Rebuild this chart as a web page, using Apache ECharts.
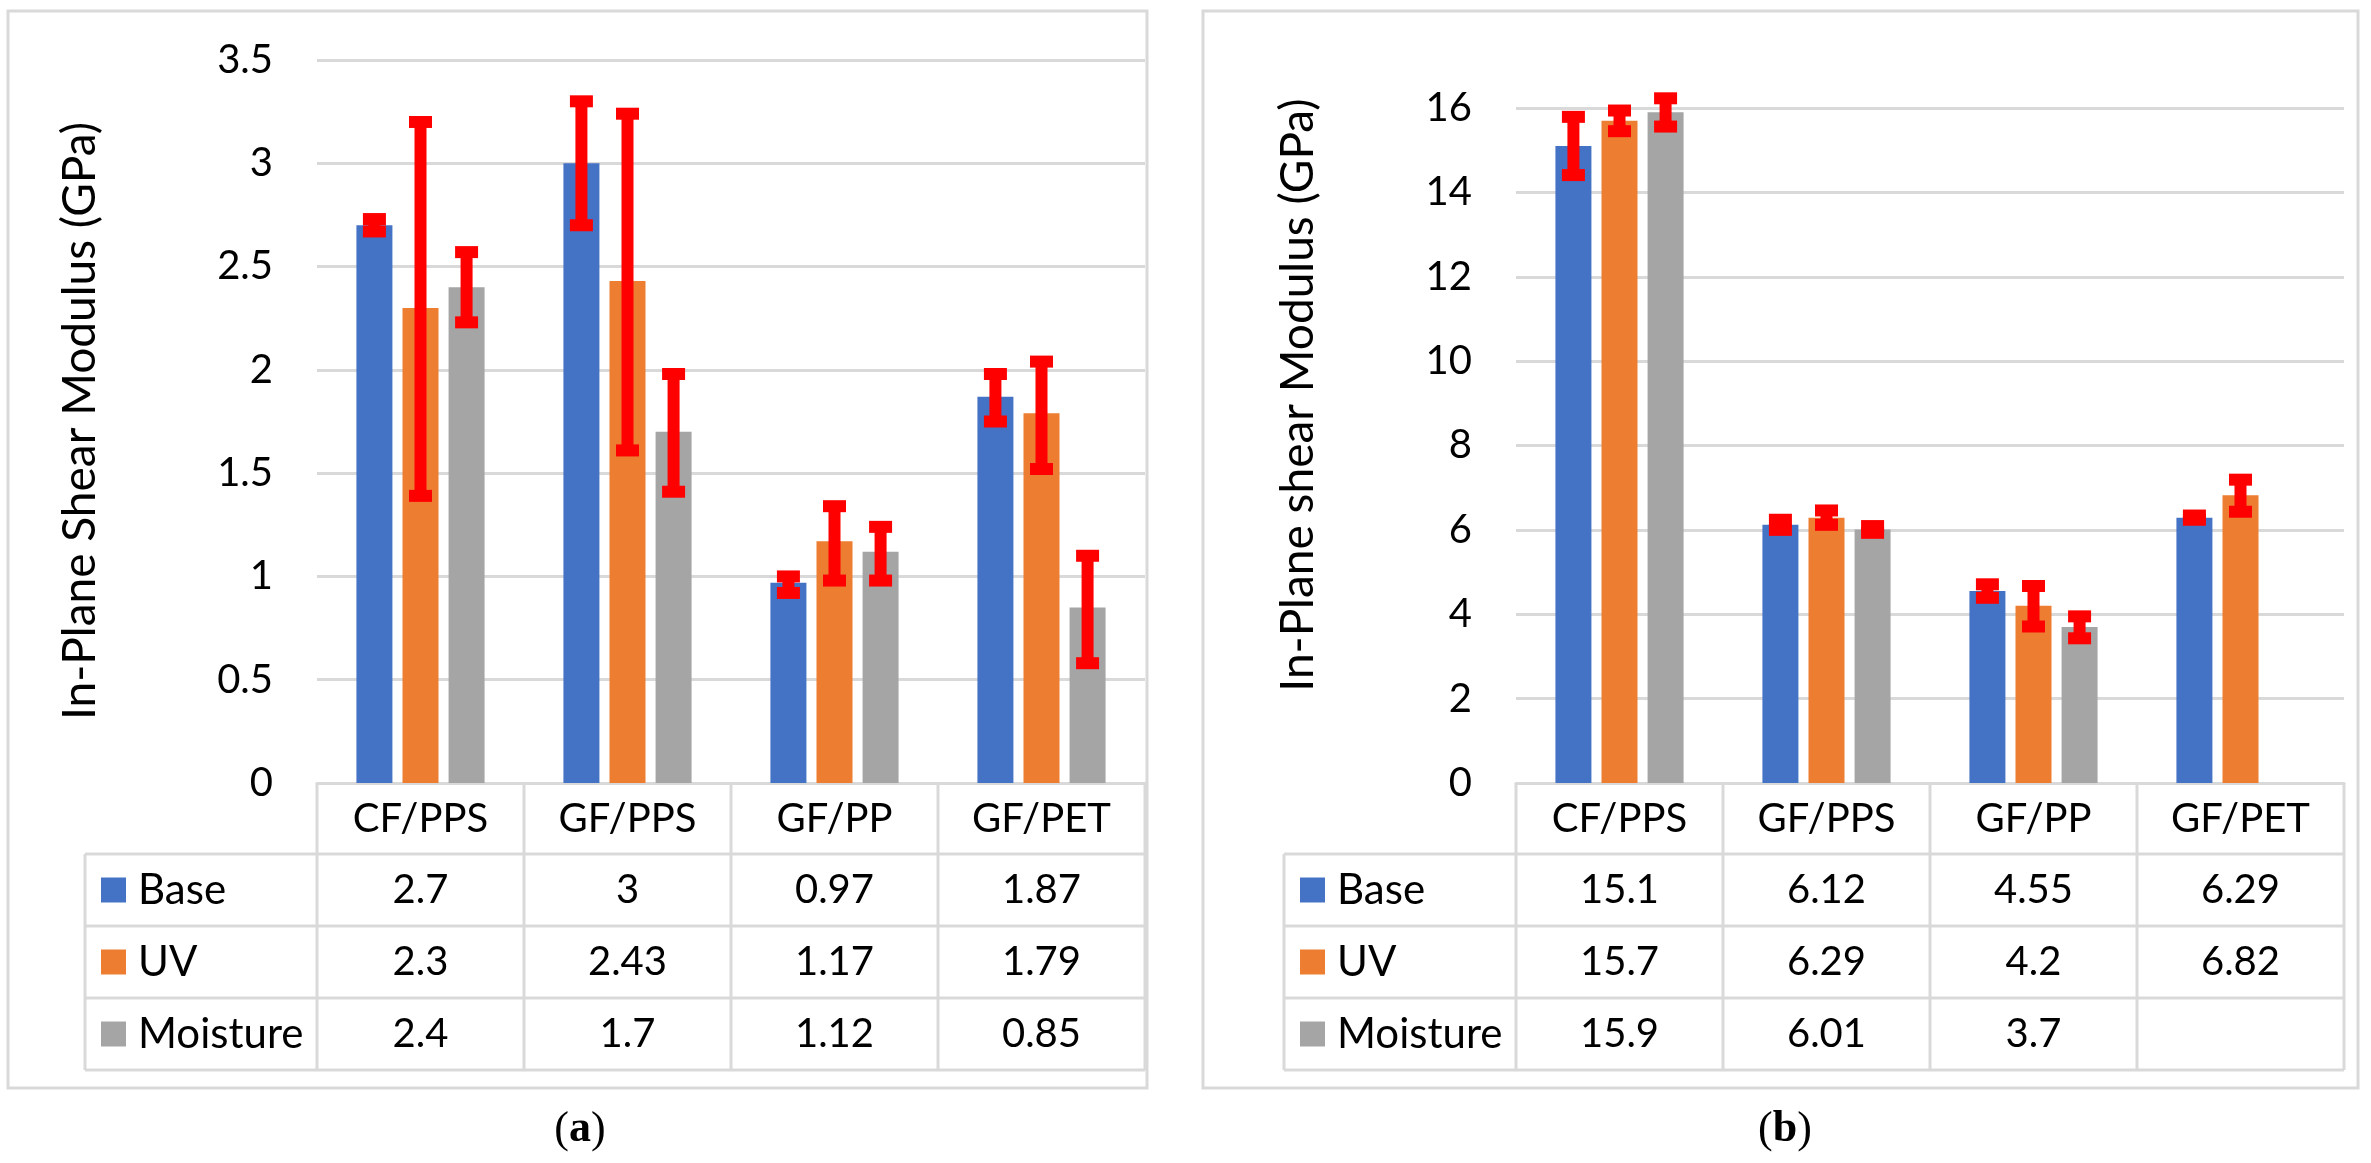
<!DOCTYPE html>
<html><head><meta charset="utf-8">
<script src="https://cdn.jsdelivr.net/npm/echarts@6/dist/echarts.min.js"></script>
<style>html,body{margin:0;padding:0;background:#fff}#c{width:2371px;height:1163px}</style>
</head><body><div id="c"></div>
<script>
// ---------------- data ----------------
const categories = ['CF/PPS', 'GF/PPS', 'GF/PP', 'GF/PET'];
const seriesNames = ['Base', 'UV', 'Moisture'];
const colors = ['#4472C4', '#ED7D31', '#A5A5A5'];

// panel (a)
const aBase = [2.7, 3, 0.97, 1.87];
const aUV = [2.3, 2.43, 1.17, 1.79];
const aMoisture = [2.4, 1.7, 1.12, 0.85];
const aBaseErr = [[2.67, 2.73], [2.70, 3.30], [0.92, 1.00], [1.75, 1.98]];
const aUVErr = [[1.39, 3.20], [1.61, 3.24], [0.98, 1.34], [1.52, 2.04]];
const aMoistureErr = [[2.23, 2.57], [1.41, 1.98], [0.98, 1.24], [0.58, 1.10]];
const aYAxis = { min: 0, max: 3.5, interval: 0.5 };
const aTitle = 'In-Plane Shear Modulus (GPa)';

// panel (b)
const bBase = [15.1, 6.12, 4.55, 6.29];
const bUV = [15.7, 6.29, 4.2, 6.82];
const bMoisture = [15.9, 6.01, 3.7, null];
const bBaseErr = [[14.41, 15.79], [6.00, 6.24], [4.39, 4.71], [6.24, 6.34]];
const bUVErr = [[15.45, 15.94], [6.12, 6.46], [3.71, 4.67], [6.43, 7.19]];
const bMoistureErr = [[15.56, 16.23], [5.93, 6.09], [3.43, 3.95], null];
const bYAxis = { min: 0, max: 16, interval: 2 };
const bTitle = 'In-Plane shear Modulus (GPa)';

// ---------------- layout / style ----------------
const FONT = 'Lato';
const TXT = 40;        // tick labels, table values, categories
const NAME_TXT = 42;   // legend names in table
const TITLE_TXT = 46;  // axis titles
const GRIDC = '#d9d9d9';
const BAR_W = 36, BAR_GAP = 0.28;
const PITCH = BAR_W * (1 + BAR_GAP);
const ERR_W = 12, CAP_W = 23, CAP_H = 12;

const panels = [
  { grid: { left: 317, top: 60, width: 828, height: 723 }, tableLeft: 85,
    box: [8, 11, 1139, 1077], title: aTitle, titleX: 80, titleY: 421, caption: 'a', capX: 580,
    yAxis: aYAxis, values: [aBase, aUV, aMoisture], errs: [aBaseErr, aUVErr, aMoistureErr] },
  { grid: { left: 1516, top: 108, width: 828, height: 675 }, tableLeft: 1284,
    box: [1203, 11, 1155, 1077], title: bTitle, titleX: 1298, titleY: 395, caption: 'b', capX: 1785,
    yAxis: bYAxis, values: [bBase, bUV, bMoisture], errs: [bBaseErr, bUVErr, bMoistureErr] }
];

const HEADER_H = 71, ROW_H = 72;

function errRender(offsetIdx) {
  return function (params, api) {
    const x = api.value(0), lo = api.value(1), hi = api.value(2);
    const pLo = api.coord([x, lo]), pHi = api.coord([x, hi]);
    const cx = pLo[0] + offsetIdx * PITCH;
    const st = { fill: '#FF0000' };
    return { type: 'group', children: [
      { type: 'rect', shape: { x: cx - ERR_W / 2, y: pHi[1], width: ERR_W, height: pLo[1] - pHi[1] }, style: st },
      { type: 'rect', shape: { x: cx - CAP_W / 2, y: pHi[1] - CAP_H / 2, width: CAP_W, height: CAP_H }, style: st },
      { type: 'rect', shape: { x: cx - CAP_W / 2, y: pLo[1] - CAP_H / 2, width: CAP_W, height: CAP_H }, style: st }
    ]};
  };
}

const grids = [], xAxes = [], yAxes = [], series = [], graphics = [];
const lineStyle = { stroke: GRIDC, lineWidth: 3 };

panels.forEach((p, pi) => {
  grids.push(Object.assign({ outerBoundsMode: 'none', containLabel: false }, p.grid));
  xAxes.push({
    type: 'category', gridIndex: pi, data: categories,
    axisLine: { show: true, lineStyle: { color: GRIDC, width: 3 } },
    axisTick: { show: false },
    axisLabel: { color: '#000', fontFamily: FONT, fontSize: TXT, margin: 36, verticalAlign: 'middle' },
    splitLine: { show: false }
  });
  yAxes.push({
    type: 'value', gridIndex: pi, min: p.yAxis.min, max: p.yAxis.max, interval: p.yAxis.interval,
    axisLine: { show: false }, axisTick: { show: false },
    axisLabel: { color: '#000', fontFamily: FONT, fontSize: TXT, margin: 44 },
    splitLine: { show: true, lineStyle: { color: GRIDC, width: 3 } }
  });
  p.values.forEach((vals, si) => {
    series.push({
      type: 'bar', name: seriesNames[si], xAxisIndex: pi, yAxisIndex: pi,
      data: vals, barWidth: BAR_W, barGap: (BAR_GAP * 100) + '%',
      itemStyle: { color: colors[si] }, silent: true, animation: false
    });
  });
  p.errs.forEach((errs, si) => {
    const data = [];
    errs.forEach((e, ci) => { if (e) data.push([ci, e[0], e[1]]); });
    series.push({
      type: 'custom', xAxisIndex: pi, yAxisIndex: pi, z: 10, silent: true, animation: false,
      renderItem: errRender(si - 1), encode: { x: 0, y: [1, 2] }, data: data
    });
  });

  // frame
  graphics.push({ type: 'rect', shape: { x: p.box[0], y: p.box[1], width: p.box[2], height: p.box[3] },
    style: { fill: 'none', stroke: GRIDC, lineWidth: 3 }, z: -1 });

  // data table
  const gl = p.grid.left, gr = p.grid.left + p.grid.width, gb = p.grid.top + p.grid.height;
  const band = p.grid.width / categories.length;
  const hb = gb + HEADER_H, tb = hb + ROW_H * seriesNames.length;
  for (let r = 0; r <= seriesNames.length; r++) {
    const y = hb + r * ROW_H;
    graphics.push({ type: 'line', shape: { x1: p.tableLeft, y1: y, x2: gr, y2: y }, style: lineStyle });
  }
  graphics.push({ type: 'line', shape: { x1: p.tableLeft, y1: hb, x2: p.tableLeft, y2: tb }, style: lineStyle });
  for (let k = 0; k <= categories.length; k++) {
    const x = gl + k * band;
    graphics.push({ type: 'line', shape: { x1: x, y1: gb, x2: x, y2: tb }, style: lineStyle });
  }
  seriesNames.forEach((nm, si) => {
    const cy = hb + si * ROW_H + ROW_H / 2;
    graphics.push({ type: 'rect', shape: { x: p.tableLeft + 16, y: cy - 12.5, width: 25, height: 25 },
      style: { fill: colors[si] } });
    graphics.push({ type: 'text', x: p.tableLeft + 53, y: cy,
      style: { text: nm, fill: '#000', font: NAME_TXT + 'px ' + FONT, textAlign: 'left', textVerticalAlign: 'middle' } });
    p.values[si].forEach((v, ci) => {
      if (v === null || v === undefined) return;
      graphics.push({ type: 'text', x: gl + ci * band + band / 2, y: cy,
        style: { text: String(v), fill: '#000', font: TXT + 'px ' + FONT, textAlign: 'center', textVerticalAlign: 'middle' } });
    });
  });

  // axis title
  graphics.push({ type: 'text', x: p.titleX, y: p.titleY, rotation: Math.PI / 2,
    style: { text: p.title, fill: '#000', font: TITLE_TXT + 'px ' + FONT, textAlign: 'center', textVerticalAlign: 'middle' } });

  // caption
  graphics.push({ type: 'text', x: p.capX, y: 1130,
    style: { text: '{p|(}{b|' + p.caption + '}{p|)}', textAlign: 'center', textVerticalAlign: 'middle',
      rich: { p: { fontFamily: 'Liberation Serif', fontSize: 44, fill: '#000' },
              b: { fontFamily: 'Liberation Serif', fontSize: 44, fontWeight: 'bold', fill: '#000' } } } });
});

const chart = echarts.init(document.getElementById('c'), null, { renderer: 'canvas' });
chart.setOption({
  backgroundColor: '#fff',
  animation: false,
  grid: grids, xAxis: xAxes, yAxis: yAxes, series: series,
  graphic: { elements: graphics }
});
</script></body></html>
